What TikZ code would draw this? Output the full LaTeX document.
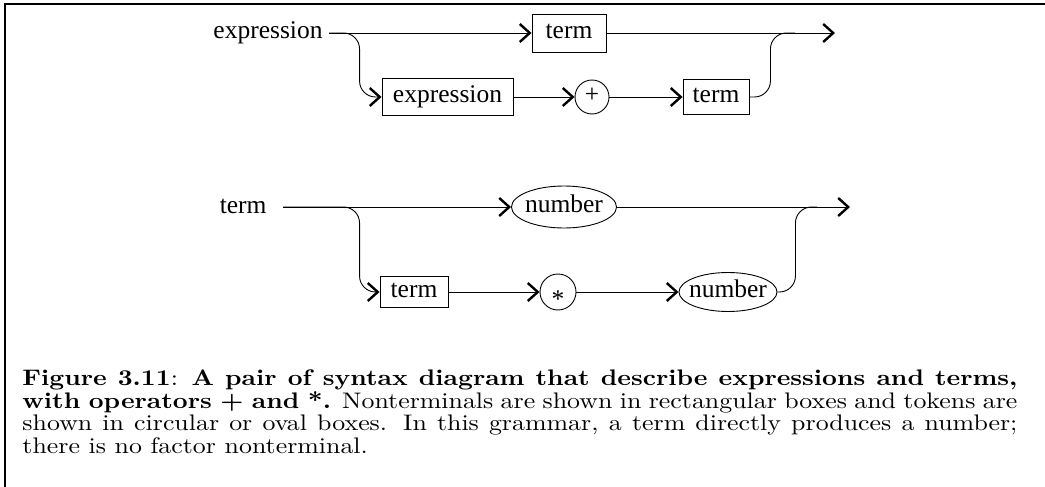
\documentclass[tikz,border=0pt]{standalone}
\usepackage{fontspec}
\newfontfamily\diafont{Liberation Serif}
\newfontfamily\capfont{lmroman10-regular.otf}[BoldFont=lmroman10-bold.otf, FakeStretch=1.15]
\usetikzlibrary{arrows.meta,shapes.geometric}

\begin{document}
\begin{tikzpicture}[
    x=1pt, y=-1pt,
    line width=0.9pt,
    synarrow/.style={
        -{Straight Barb[length=10pt,width=18pt,line width=2.4pt]}
    },
    lbl/.style={
        font=\diafont\fontsize{25.5}{30}\selectfont, inner sep=0pt
    },
    nonterm/.style={
        rectangle, draw, lbl, text height=17pt, text depth=6pt,
        minimum height=37pt
    },
    tokcircle/.style={
        circle, draw, lbl, text height=17pt, text depth=6pt
    },
    tokoval/.style={
        ellipse, draw, lbl, text height=17pt, text depth=6pt,
        inner xsep=-6pt
    }
]
\useasboundingbox (0,0) rectangle (1045,487);

% Frame
\draw[line width=2pt] (5,487) -- (5,4) -- (1045,4);

% expression diagram
\node[lbl, inner xsep=6pt, anchor=base east] (exprlbl) at (329,39) {expression};
\node[nonterm, minimum width=74pt, minimum height=38pt] (termA) at (569,33) {term};
\node[nonterm, minimum width=131pt] (exprbox) at (447.5,97) {expression};
\node[tokcircle, minimum size=34pt] (plus) at (592,97) {+};
\node[nonterm, minimum width=66pt, minimum height=35pt] (termB) at (716,97) {term};
\coordinate (joinA) at (795,33);
\coordinate (outA) at (835,33);

\draw[synarrow] (exprlbl.east |- termA) -- (termA);
\draw[synarrow] (termA) -- (outA);
\draw[synarrow, rounded corners=16pt] (exprlbl.east |- termA) -| ([xshift=-22pt]exprbox.west) -- (exprbox.west);
\draw[synarrow] (exprbox) -- (plus);
\draw[synarrow] (plus) -- (termB);
\draw[rounded corners=16pt] (termB.east) -- ++(21,0) |- (joinA);

% term diagram
\node[lbl, inner xsep=16pt, anchor=base east] (termlbl) at (283,213) {term};
\node[tokoval, minimum width=105pt, minimum height=42pt] (numA) at (564,207) {number};
\node[nonterm, minimum width=68pt, minimum height=31pt] (termC) at (414,292) {term};
\node[tokcircle, minimum size=36pt] (star) at (558,292) {\raisebox{-0.4em}{*}};
\node[tokoval, minimum width=98pt, minimum height=39pt] (numB) at (728,292) {number};
\coordinate (joinB) at (817,207);
\coordinate (outB) at (850,207);

\draw[synarrow] (termlbl.east |- numA) -- (numA);
\draw[synarrow] (numA) -- (outB);
\draw[synarrow, rounded corners=16pt] (termlbl.east |- numA) -| ([xshift=-20pt]termC.west) -- (termC.west);
\draw[synarrow] (termC) -- (star);
\draw[synarrow] (star) -- (numB);
\draw[rounded corners=16pt] (numB.east) -- ++(18,0) |- (joinB);

% Caption
\node[anchor=north west, inner sep=0pt, text width=995pt, align=justify] (caption) at (22,369.5)
  {\capfont\fontsize{22.5}{22.5}\selectfont\baselineskip=22.5pt\lineskip=0pt\lineskiplimit=-20pt\tolerance=9999
   \textbf{Figure 3.11}: \textbf{A pair of syntax diagram that describe expressions and terms,\linebreak
   with operators + and *.} Nonterminals are shown in rectangular boxes and tokens are\linebreak
   shown in circular or oval boxes. In this grammar, a term directly produces a number;\linebreak
   there is no factor nonterminal.\par};

\end{tikzpicture}
\end{document}
